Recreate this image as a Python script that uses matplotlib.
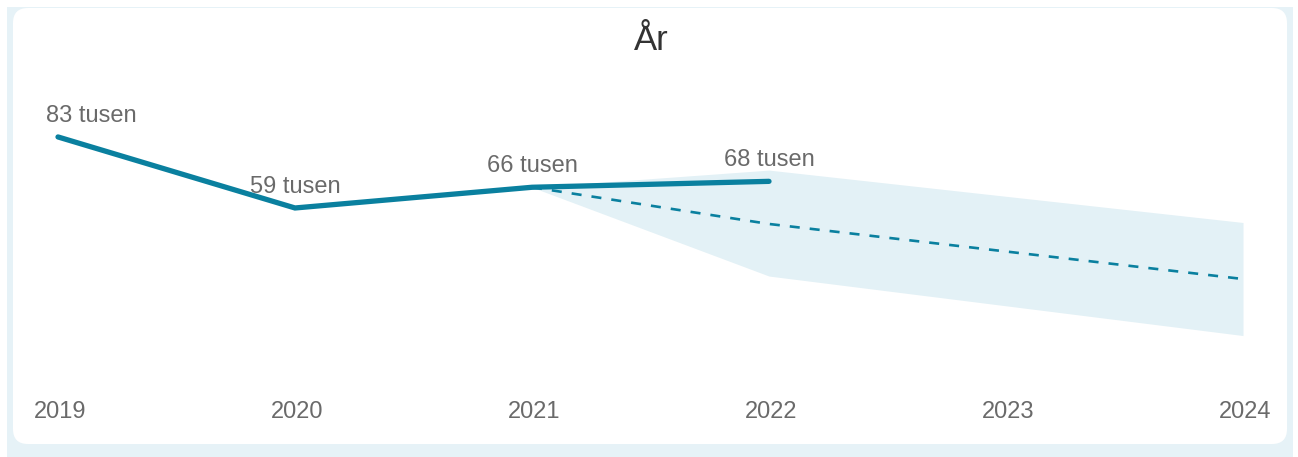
import matplotlib
matplotlib.use("Agg")
import matplotlib.pyplot as plt
from matplotlib.patches import FancyBboxPatch, Rectangle
from matplotlib.transforms import IdentityTransform, ScaledTranslation

plt.rcParams["font.family"] = ["Liberation Sans", "DejaVu Sans"]

# Data (thousands)
years = [2019, 2020, 2021, 2022]
actual = [83, 59, 66, 68]
labels = ["83 tusen", "59 tusen", "66 tusen", "68 tusen"]

fc_years = [2021, 2022, 2024]
fc_mid = [66, 53.6, 35.0]
fc_upper = [66, 71.8, 54.1]
fc_lower = [66, 36.0, 15.9]

tick_years = [2019, 2020, 2021, 2022, 2023, 2024]

LINE = "#0a809f"
BAND = "#e3f1f6"
BORDER = "#e6f2f7"
TEXT = "#6a6a6a"

W, H = 1298, 457
fig = plt.figure(figsize=(W / 100, H / 100), dpi=100, facecolor="white")

# card background (pixel coords, origin bottom-left)
fig.patches.append(Rectangle((7, 0), 1286, H - 7, transform=IdentityTransform(),
                             facecolor=BORDER, edgecolor="none", zorder=0))
fig.patches.append(FancyBboxPatch((13, 13), 1274, H - 21,
                                  boxstyle="round,pad=0,rounding_size=15",
                                  transform=IdentityTransform(),
                                  facecolor="white", edgecolor="none", zorder=1))

ax = fig.add_axes([0, 67 / H, 1, 330 / H])
ax.set_facecolor("none")
ax.set_zorder(2)
ax.set_xlim(2019 - 58 / 237, 2024 + 55 / 237)
ax.set_ylim(-2.5, 109)

# forecast band + dashed forecast, then the actual series on top
ax.fill_between(fc_years, fc_lower, fc_upper, color=BAND, linewidth=0, zorder=1)
ax.plot(fc_years, fc_mid, color=LINE, lw=1.9, dashes=(3.8, 3.8), zorder=2)
ax.plot(years, actual, color=LINE, lw=3.8, solid_capstyle="round",
        solid_joinstyle="miter", zorder=3)

for i, (x, y, t) in enumerate(zip(years, actual, labels)):
    if i == 0:
        ax.annotate(t, (x, y), xytext=(-12, 21), textcoords="offset pixels",
                    ha="left", va="center", fontsize=17, color=TEXT)
    else:
        ax.annotate(t, (x, y), xytext=(0, 21), textcoords="offset pixels",
                    ha="center", va="center", fontsize=17, color=TEXT)

ax.set_xticks(tick_years)
ax.set_xticklabels([str(y) for y in tick_years])
ax.tick_params(axis="x", length=0, pad=8, labelsize=17, labelcolor=TEXT)
shift = ScaledTranslation(2 / 100, 0, fig.dpi_scale_trans)
for lbl in ax.get_xticklabels():
    lbl.set_transform(lbl.get_transform() + shift)
ax.set_yticks([])
for s in ax.spines.values():
    s.set_visible(False)

fig.text(651 / W, 1 - 40 / H, "År", ha="center", va="center",
         fontsize=25, color="#333333")

fig.savefig("out.png", dpi=100, facecolor="white")
